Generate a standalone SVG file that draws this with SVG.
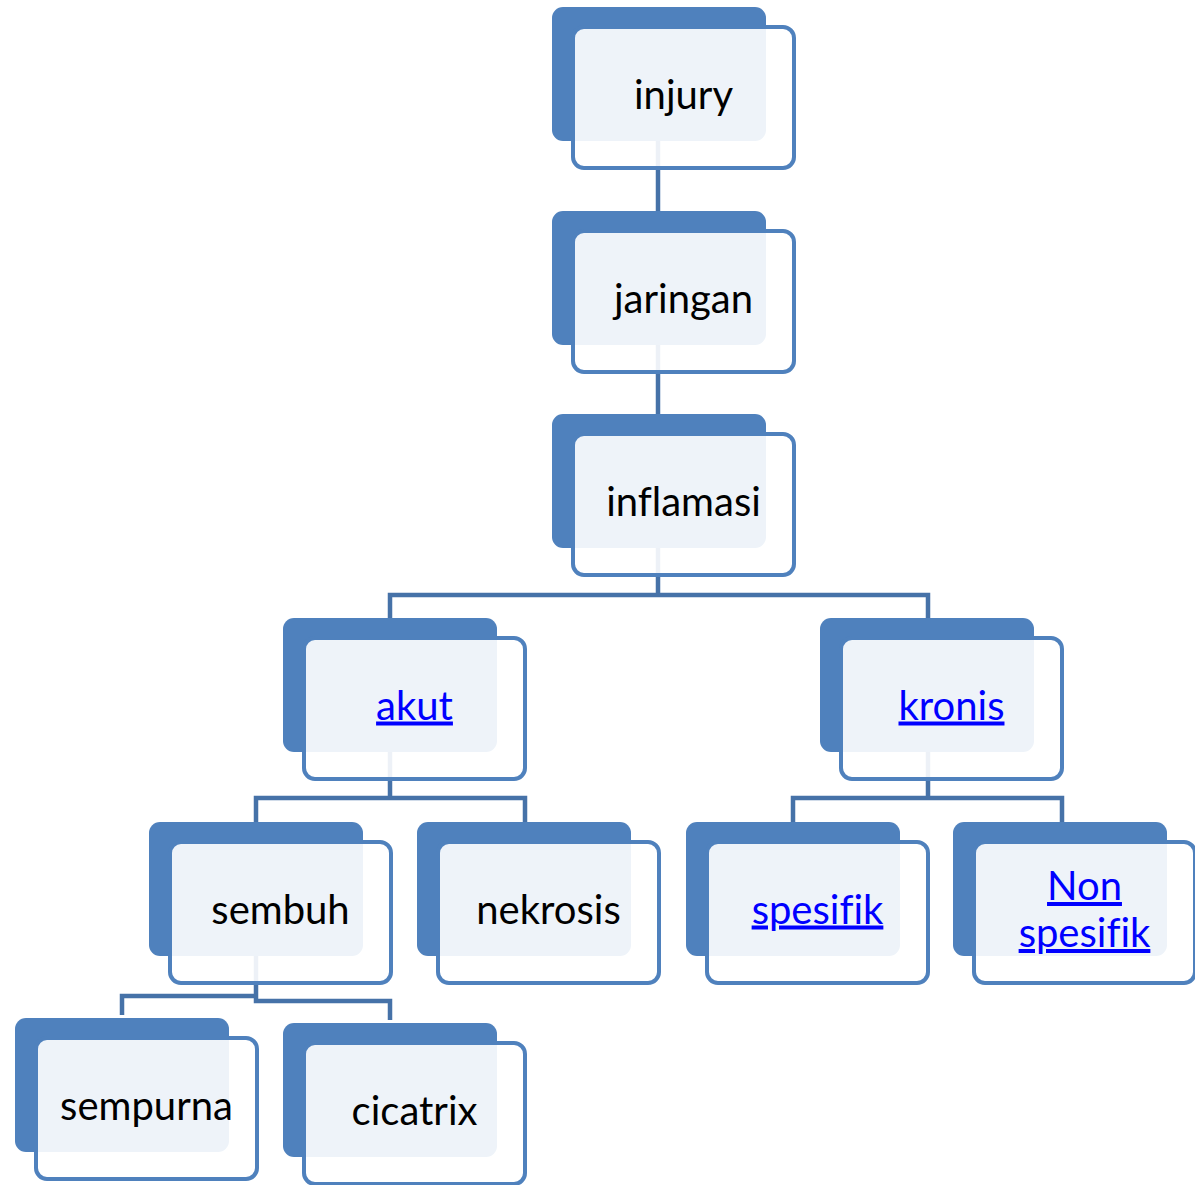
<svg xmlns="http://www.w3.org/2000/svg" width="1195" height="1185" viewBox="0 0 1195 1185">
<style>
.bk{fill:#4F81BD}
.fr{fill:#FFFFFF;fill-opacity:0.9;stroke:#4F81BD;stroke-width:4}
.t{font-family:Lato,"Open Sans","Liberation Sans",sans-serif;font-size:40px;fill:#000;text-anchor:middle;font-variant-ligatures:none;font-feature-settings:"liga" 0}
.lk{fill:#0000FF;text-decoration:underline}
.c{fill:none;stroke:#4672A8;stroke-width:4.5}
</style>
<rect width="1195" height="1185" fill="#FFFFFF"/>
<g id="connectors">
<path class="c" d="M658,140V211"/>
<path class="c" d="M658,344V414"/>
<path class="c" d="M658,548V595M390,618V595H928V618"/>
<path class="c" d="M390,752V798M256,822V798H525V822"/>
<path class="c" d="M928,752V798M793,822V798H1062V822"/>
<path class="c" d="M256,956V996M122,1015V996H256V1001H390V1020"/>
</g>
<g id="injury" transform="translate(552,7)"><rect class="bk" width="214" height="134" rx="11"/><rect class="fr" x="21" y="20" width="221" height="141" rx="11"/><text class="t" x="131.5" y="101.5">injury</text></g>
<g id="jaringan" transform="translate(552,211)"><rect class="bk" width="214" height="134" rx="11"/><rect class="fr" x="21" y="20" width="221" height="141" rx="11"/><text class="t" x="131.5" y="101.5">jaringan</text></g>
<g id="inflamasi" transform="translate(552,414)"><rect class="bk" width="214" height="134" rx="11"/><rect class="fr" x="21" y="20" width="221" height="141" rx="11"/><text class="t" x="131.5" y="101.5">inflamasi</text></g>
<g id="akut" transform="translate(283,618)"><rect class="bk" width="214" height="134" rx="11"/><rect class="fr" x="21" y="20" width="221" height="141" rx="11"/><text class="t lk" x="131.5" y="101.5">akut</text></g>
<g id="kronis" transform="translate(820,618)"><rect class="bk" width="214" height="134" rx="11"/><rect class="fr" x="21" y="20" width="221" height="141" rx="11"/><text class="t lk" x="131.5" y="101.5">kronis</text></g>
<g id="sembuh" transform="translate(149,822)"><rect class="bk" width="214" height="134" rx="11"/><rect class="fr" x="21" y="20" width="221" height="141" rx="11"/><text class="t" x="131.5" y="101.5">sembuh</text></g>
<g id="nekrosis" transform="translate(417,822)"><rect class="bk" width="214" height="134" rx="11"/><rect class="fr" x="21" y="20" width="221" height="141" rx="11"/><text class="t" x="131.5" y="101.5">nekrosis</text></g>
<g id="spesifik" transform="translate(686,822)"><rect class="bk" width="214" height="134" rx="11"/><rect class="fr" x="21" y="20" width="221" height="141" rx="11"/><text class="t lk" x="131.5" y="101.5">spesifik</text></g>
<g id="non-spesifik" transform="translate(953,822)"><rect class="bk" width="214" height="134" rx="11"/><rect class="fr" x="21" y="20" width="221" height="141" rx="11"/><text class="t lk" x="131.5" y="78">Non</text><text class="t lk" x="131.5" y="125">spesifik</text></g>
<g id="sempurna" transform="translate(15,1018)"><rect class="bk" width="214" height="134" rx="11"/><rect class="fr" x="21" y="20" width="221" height="141" rx="11"/><text class="t" x="131.5" y="101.5">sempurna</text></g>
<g id="cicatrix" transform="translate(283,1023)"><rect class="bk" width="214" height="134" rx="11"/><rect class="fr" x="21" y="20" width="221" height="141" rx="11"/><text class="t" x="131.5" y="101.5">cicatrix</text></g>
</svg>
